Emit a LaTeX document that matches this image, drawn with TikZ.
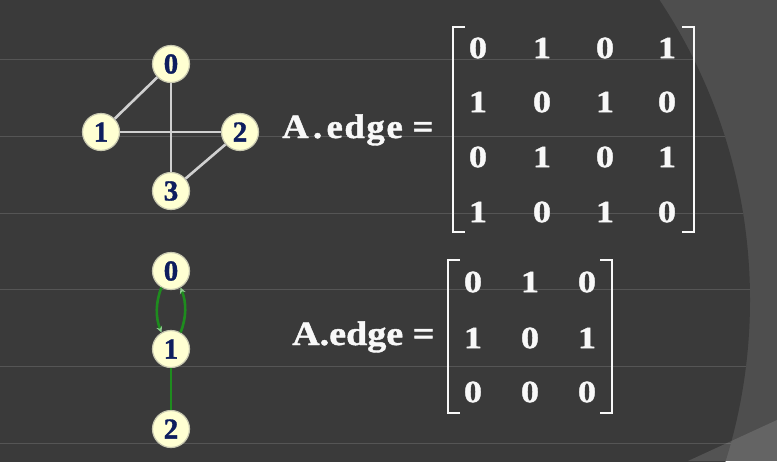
\documentclass[tikz,border=0pt]{standalone}
\usepackage{fontspec}
\setmainfont{Liberation Serif}[BoldFeatures={FakeBold=1.2}]
\usetikzlibrary{arrows.meta}
\definecolor{bgdark}{HTML}{3A3A3A}
\definecolor{bgout}{HTML}{4E4E4E}
\definecolor{rulecol}{HTML}{555555}
\definecolor{nodefill}{HTML}{FFFFD2}
\definecolor{nodeline}{HTML}{C8C8B0}
\definecolor{navy}{HTML}{0E1E5E}
\definecolor{edgegrey}{HTML}{D0D0D0}
\definecolor{gedge}{HTML}{1E8C1E}
\definecolor{gtip}{HTML}{8CCB8C}
\definecolor{txt}{HTML}{F8F8F8}
\begin{document}
\begin{tikzpicture}[x=1pt,y=-1pt,
  vtx/.style={circle, fill=nodefill, draw=nodeline, line width=1.2pt, minimum size=37pt, inner sep=0pt,
    font=\fontsize{29}{29}\selectfont\bfseries, text=navy},
  uedge/.style={draw=edgegrey, line width=2.6pt},
  dedge/.style={draw=gedge, line width=2.6pt},
  darr/.style={dedge, -{Stealth[length=6pt,width=6pt,color=gtip]}},
  ent/.style={inner sep=0pt, text=txt, font=\fontsize{31}{31}\selectfont\bfseries},
  lbl/.style={inner sep=0pt, anchor=base west, text=txt, font=\fontsize{34}{34}\selectfont\bfseries},
  brk/.style={draw=txt, line width=1.8pt}]
\useasboundingbox (0,0) rectangle (777,461);
% background
\fill[bgout] (0,0) rectangle (777,461);
\fill[bgdark] (208,300) circle[radius=542pt];
\begin{scope}
  \clip (208,300) circle[radius=542pt];
  \foreach \yy in {59,136,213,289,366,443} \draw[rulecol, line width=1pt] (0,\yy) -- (777,\yy);
\end{scope}
\fill[white, opacity=0.13] (688,461) -- (777,420) -- (777,461) -- cycle;

% top graph
\node[vtx] (a0) at (171,64) {0};
\node[vtx] (a1) at (101,132) {1};
\node[vtx] (a2) at (240,132) {2};
\node[vtx] (a3) at (171,191) {3};
\draw[uedge] (a0) -- (a1);
\draw[uedge] (a1) -- (a2);
\draw[uedge] (a0) -- (a3);
\draw[uedge] (a2) -- (a3);

% bottom graph
\node[vtx] (b0) at (171,271) {0};
\node[vtx] (b1) at (171,349) {1};
\node[vtx] (b2) at (171,429) {2};
\draw[darr] (b0.240) .. controls +(-6,15) and +(-6,-15) .. (b1.120);
\draw[darr] (b1.60) .. controls +(6,-15) and +(6,15) .. (b0.300);
\draw[dedge] (b1) -- (b2);

% top label and matrix
\node[lbl] (t1) at (282,138) {\scalebox{1.08}[1]{A\kern4pt.\kern4pt e\kern1.5pt d\kern1.5pt g\kern1.5pt e\kern9pt=}};
\node[ent] (p11) at (478,48) {\scalebox{1.17}[1]{0}};
\node[ent] (p12) at (542,48) {\scalebox{1.17}[1]{1}};
\node[ent] (p13) at (605,48) {\scalebox{1.17}[1]{0}};
\node[ent] (p14) at (667,48) {\scalebox{1.17}[1]{1}};
\node[ent] (p21) at (478,102) {\scalebox{1.17}[1]{1}};
\node[ent] (p22) at (542,102) {\scalebox{1.17}[1]{0}};
\node[ent] (p23) at (605,102) {\scalebox{1.17}[1]{1}};
\node[ent] (p24) at (667,102) {\scalebox{1.17}[1]{0}};
\node[ent] (p31) at (478,157) {\scalebox{1.17}[1]{0}};
\node[ent] (p32) at (542,157) {\scalebox{1.17}[1]{1}};
\node[ent] (p33) at (605,157) {\scalebox{1.17}[1]{0}};
\node[ent] (p34) at (667,157) {\scalebox{1.17}[1]{1}};
\node[ent] (p41) at (478,212) {\scalebox{1.17}[1]{1}};
\node[ent] (p42) at (542,212) {\scalebox{1.17}[1]{0}};
\node[ent] (p43) at (605,212) {\scalebox{1.17}[1]{1}};
\node[ent] (p44) at (667,212) {\scalebox{1.17}[1]{0}};
\draw[brk] (465,27) -- (453,27) -- (453,232) -- (465,232);
\draw[brk] (682,27) -- (694,27) -- (694,232) -- (682,232);

% bottom label and matrix
\node[lbl] (t2) at (292,345) {\scalebox{1.12}[1]{A.edge =}};
\node[ent] (q11) at (473,282) {\scalebox{1.17}[1]{0}};
\node[ent] (q12) at (530,282) {\scalebox{1.17}[1]{1}};
\node[ent] (q13) at (587,282) {\scalebox{1.17}[1]{0}};
\node[ent] (q21) at (473,338) {\scalebox{1.17}[1]{1}};
\node[ent] (q22) at (530,338) {\scalebox{1.17}[1]{0}};
\node[ent] (q23) at (587,338) {\scalebox{1.17}[1]{1}};
\node[ent] (q31) at (473,392) {\scalebox{1.17}[1]{0}};
\node[ent] (q32) at (530,392) {\scalebox{1.17}[1]{0}};
\node[ent] (q33) at (587,392) {\scalebox{1.17}[1]{0}};
\draw[brk] (460,260) -- (448,260) -- (448,413) -- (460,413);
\draw[brk] (600,260) -- (612,260) -- (612,413) -- (600,413);
\end{tikzpicture}
\end{document}
